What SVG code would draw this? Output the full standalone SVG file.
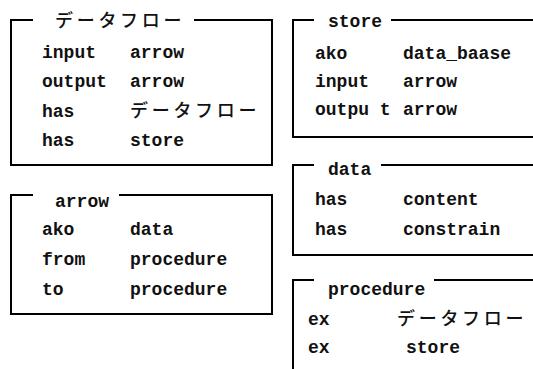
<svg xmlns="http://www.w3.org/2000/svg" width="533" height="369" viewBox="0 0 533 369">
<style>
.ln{fill:none;stroke:#000;stroke-width:2;stroke-linecap:square}
text{font-family:"Liberation Mono","DejaVu Sans Mono",monospace;font-size:18px;font-weight:bold;fill:#111}
.jp{font-family:"Noto Sans CJK JP","Noto Sans CJK SC",sans-serif;font-weight:500;font-size:18px;letter-spacing:3.7px}
</style>
<rect width="533" height="369" fill="#fff"/>
<g id="node-dataflow">
<path class="ln" d="M32,20 H11 V165 H272 V20 H195"/>
<text class="jp" x="55" y="27">データフロー</text>
<text x="42" y="58">input</text><text x="130" y="58">arrow</text>
<text x="42" y="87">output</text><text x="130" y="87">arrow</text>
<text x="42" y="117">has</text><text class="jp" x="130" y="117">データフロー</text>
<text x="42" y="146">has</text><text x="130" y="146">store</text>
</g>
<g id="node-store">
<path class="ln" d="M313,20 H293 V137 H534 M392,20 H534"/>
<text x="328" y="27">store</text>
<text x="315" y="59">ako</text><text x="403" y="59">data_baase</text>
<text x="315" y="87">input</text><text x="403" y="87">arrow</text>
<text x="315" y="115">outpu t</text><text x="403" y="115">arrow</text>
</g>
<g id="node-data">
<path class="ln" d="M313,165 H293 V255 H534 M382,165 H534"/>
<text x="328" y="175">data</text>
<text x="315" y="205">has</text><text x="403" y="205">content</text>
<text x="315" y="235">has</text><text x="403" y="235">constrain</text>
</g>
<g id="node-arrow">
<path class="ln" d="M32,195 H11 V314 H272 V195 H120"/>
<text x="55" y="207">arrow</text>
<text x="42" y="235">ako</text><text x="130" y="235">data</text>
<text x="42" y="265">from</text><text x="130" y="265">procedure</text>
<text x="42" y="295">to</text><text x="130" y="295">procedure</text>
</g>
<g id="node-procedure">
<path class="ln" d="M313,280 H293 V370 M435,280 H534"/>
<text x="328" y="295">procedure</text>
<text x="308" y="325">ex</text><text class="jp" x="397" y="325">データフロー</text>
<text x="308" y="353">ex</text><text x="406" y="353">store</text>
</g>
</svg>
